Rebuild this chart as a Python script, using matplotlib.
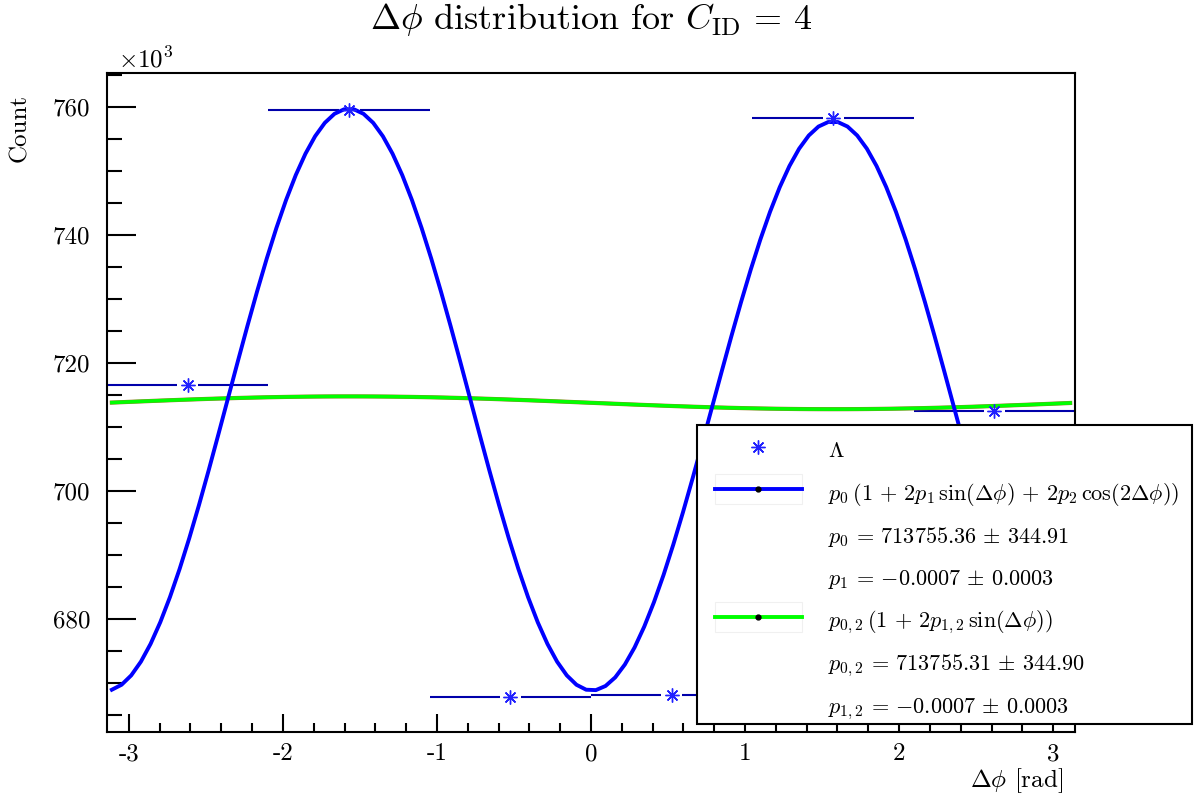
import numpy as np
import matplotlib
matplotlib.use('Agg')
import matplotlib.pyplot as plt
from matplotlib.lines import Line2D
from matplotlib.patches import Rectangle
from matplotlib.ticker import MultipleLocator, FixedLocator

plt.rcParams['font.family'] = 'cmr10'
plt.rcParams['mathtext.fontset'] = 'cm'
plt.rcParams['axes.unicode_minus'] = False

# delta phi histogram, 6 bins over [-pi, pi], counts in units of 10^3
bin_lo = [-np.pi, -2*np.pi/3, -np.pi/3, 0.0, np.pi/3, 2*np.pi/3]
bin_hi = [-2*np.pi/3, -np.pi/3, 0.0, np.pi/3, 2*np.pi/3, np.pi]
counts = [716.6, 759.5, 667.7, 668.1, 758.3, 712.4]

# fit results
p0, p0_err = 713755.36, 344.91
p1, p1_err = -0.0007, 0.0003
p2 = -0.0315
p0_2, p0_2_err = 713755.31, 344.90
p1_2, p1_2_err = -0.0007, 0.0003
fit_lo, fit_hi = -3.11, 3.11

xticks = [-3, -2, -1, 0, 1, 2, 3]
xticklabels = ['-3', '-2', '-1', '0', '1', '2', '3']
yticks = [680, 700, 720, 740, 760]
yticklabels = ['680', '700', '720', '740', '760']

W, H = 1194, 798
def fx(px):
    return px / W
def fy(py):
    return 1 - py / H

def num(v, fmt):
    # keep a leading minus unary inside mathtext
    return (fmt % v).replace('-', '{-}')

fig = plt.figure(figsize=(W/100, H/100), dpi=100)
ax = fig.add_axes([fx(107), fy(732), (1075-107)/W, (732-73)/H])
ax.set_xlim(-np.pi, np.pi)
ax.set_ylim(662.3, 765.3)

# fit curves
x = np.linspace(fit_lo, fit_hi, 100)
f_full = p0*(1 + 2*p1*np.sin(x) + 2*p2*np.cos(2*x)) / 1e3
f_sin = p0_2*(1 + 2*p1_2*np.sin(x)) / 1e3
ax.plot(x, f_sin, color='#9a7a2a', lw=3.0, zorder=3)
ax.plot(x, f_sin, color='#00ff00', lw=2.5, zorder=3)
ax.plot(x, f_full, color='#0000ff', lw=2.8, zorder=4)

# data: horizontal bin-width bars with a gap around the marker
centers = [(a + b)/2 for a, b in zip(bin_lo, bin_hi)]
gap = 10.5 / (ax.get_position().width * W) * (2*np.pi)
for lo, hi, c, n in zip(bin_lo, bin_hi, centers, counts):
    ax.hlines([n, n], [lo, c + gap], [c - gap, hi], color='#0000aa', lw=1.5, zorder=2)
ax.plot(centers, counts, ls='none', marker=(8, 2, 0), ms=10, mec='#2020ff',
        mew=1.0, zorder=5)

# axes styling
ax.set_xticks(xticks)
ax.set_xticklabels(xticklabels)
ax.xaxis.set_minor_locator(MultipleLocator(0.2))
ax.yaxis.set_major_locator(FixedLocator(yticks))
ax.set_yticklabels(yticklabels)
ax.yaxis.set_minor_locator(MultipleLocator(5))
ax.tick_params(which='both', direction='in', top=False, right=False, width=1.5)
ax.tick_params(axis='x', which='major', length=13, pad=8, labelsize=18)
ax.tick_params(axis='x', which='minor', length=6.5)
ax.tick_params(axis='y', which='major', length=21, pad=12, labelsize=18)
ax.tick_params(axis='y', which='minor', length=10.5)
for s in ax.spines.values():
    s.set_linewidth(1.5)

fig.text(fx(118), fy(60), r'$\times10^{3}$', fontsize=18, ha='left', va='center')
fig.text(fx(591), fy(19), r'$\Delta\phi$ distribution for $C_{\mathrm{ID}}\,=\,4$',
         fontsize=26, ha='center', va='center')
fig.text(fx(20), fy(94), 'Count', rotation=90, ha='center', va='top', fontsize=18)
fig.text(fx(1063), fy(787), r'$\Delta\phi$ [rad]', ha='right', va='baseline', fontsize=18)

# legend box
fig.add_artist(Rectangle((fx(697), fy(724)), (1192-697)/W, (724-425)/H,
                         transform=fig.transFigure, facecolor='white',
                         edgecolor='black', lw=1.5, zorder=10))
fig.add_artist(Line2D([fx(758)], [fy(447)], transform=fig.transFigure, ls='none',
                      marker=(8, 2, 0), ms=10, mec='#2020ff', mew=1.0, zorder=11))
for yc, col in [(489, '#0000ff'), (617, '#00ff00')]:
    fig.add_artist(Rectangle((fx(715), fy(yc + 15)), 87/W, 30/H, transform=fig.transFigure,
                             facecolor='none', edgecolor='#f0f0f0', lw=0.8, zorder=11))
    fig.add_artist(Line2D([fx(715), fx(802)], [fy(yc), fy(yc)], transform=fig.transFigure,
                          color=col, lw=2.8, zorder=12))
    fig.add_artist(Line2D([fx(758)], [fy(yc)], transform=fig.transFigure, ls='none',
                          marker='o', ms=3.5, color='black', zorder=13))

rows = [
    r'$\Lambda$',
    r'$p_0\,(1\,+\,2p_1\,\sin(\Delta\phi)\,+\,2p_2\,\cos(2\Delta\phi))$',
    r'$p_0\,=\,%s\,\pm\,%s$' % (num(p0, '%.2f'), num(p0_err, '%.2f')),
    r'$p_1\,=\,%s\,\pm\,%s$' % (num(p1, '%.4f'), num(p1_err, '%.4f')),
    r'$p_{0,2}\,(1\,+\,2p_{1,2}\,\sin(\Delta\phi))$',
    r'$p_{0,2}\,=\,%s\,\pm\,%s$' % (num(p0_2, '%.2f'), num(p0_2_err, '%.2f')),
    r'$p_{1,2}\,=\,%s\,\pm\,%s$' % (num(p1_2, '%.4f'), num(p1_2_err, '%.4f')),
]
baselines = [457, 500, 542.7, 585, 627, 670, 712.7]
for txt, yb in zip(rows, baselines):
    fig.text(fx(828), fy(yb), txt, fontsize=16, ha='left', va='baseline', zorder=14)

fig.savefig('out.png', dpi=100)
